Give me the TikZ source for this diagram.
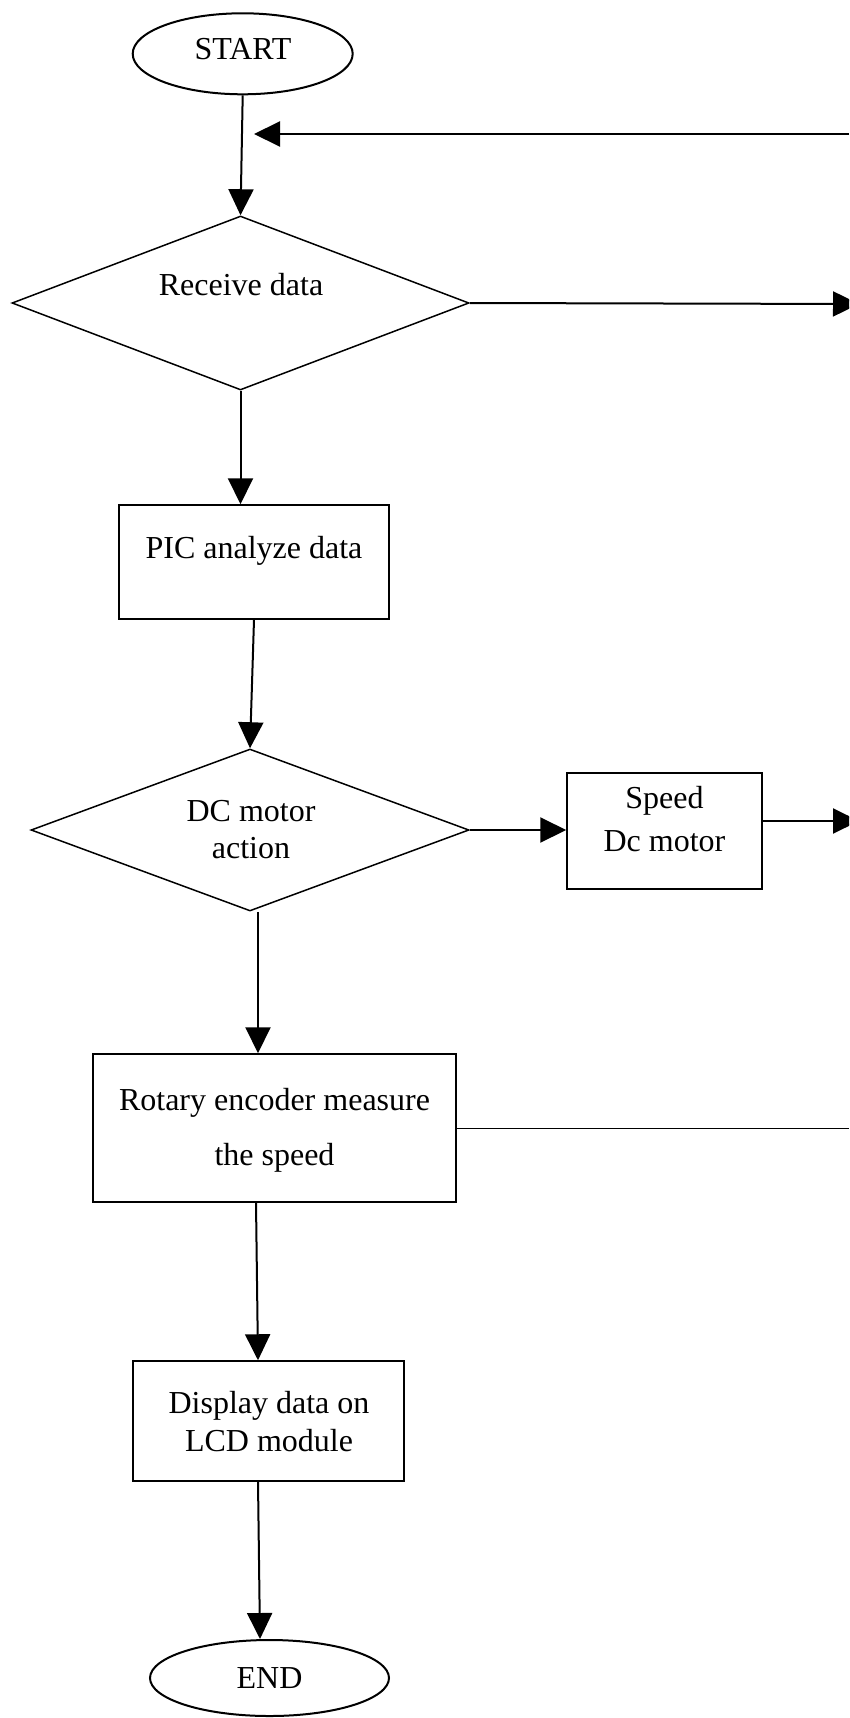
\documentclass[tikz,border=0pt]{standalone}
\usepackage{fontspec}
\setmainfont{Liberation Serif}
\usetikzlibrary{shapes.geometric,arrows.meta,calc}
\tikzset{
  every node/.style={font=\fontsize{32}{38}\selectfont},
  term/.style={ellipse,draw,line width=2pt,inner sep=0pt},
  decision/.style={diamond,draw,line width=1.5pt,inner sep=0pt},
  procbox/.style={rectangle,draw,line width=1.5pt,inner sep=0pt},
  txt/.style={inner sep=0pt,align=center},
  flow/.style={line width=2pt,-{Triangle[length=26pt,width=25pt]}},
  thinline/.style={line width=1pt}
}
\begin{document}
\begin{tikzpicture}[x=1pt,y=-1pt]
\useasboundingbox (0,0) rectangle (849,1718);
\clip (0,0) rectangle (849,1718);

% shapes
\node[term,minimum width=220pt,minimum height=81pt] (startnode) at (242.7,53.8) {};
\node[txt,anchor=base] (starttxt) at (243,60) {START};

\node[decision,minimum width=457pt,minimum height=174pt] (receive) at (240.5,303) {};
\node[txt,anchor=base] (receivetxt) at (241,295) {Receive data};

\node[procbox,minimum width=270pt,minimum height=114pt] (pic) at (254,562) {};
\node[txt,anchor=base] (pictxt) at (254,558) {PIC analyze data};

\node[decision,minimum width=438pt,minimum height=162pt] (dc) at (250,830) {};
\node[txt,font=\fontsize{32}{37}\selectfont] (dctxt) at (251,830) {DC motor\\action};

\node[procbox,minimum width=195pt,minimum height=116pt] (speed) at (664.5,831) {};
\node[txt,font=\fontsize{32}{43}\selectfont] (speedtxt) at (664.5,818.7) {Speed\\Dc motor};

\node[procbox,minimum width=363pt,minimum height=148pt] (rot) at (274.5,1128) {};
\node[txt,font=\fontsize{32}{55}\selectfont] (rottxt) at (274.5,1130.7) {Rotary encoder measure\\the speed};

\node[procbox,minimum width=271pt,minimum height=120pt] (disp) at (268.5,1421) {};
\node[txt,font=\fontsize{32}{38}\selectfont] (disptxt) at (269,1421.1) {Display data on\\LCD module};

\node[term,minimum width=239pt,minimum height=76pt] (endnode) at (269.5,1678) {};
\node[txt,anchor=base] (endtxt) at (269.5,1688) {END};

% free ends at the right edge
\coordinate (fbR) at (849,134);
\coordinate (fbT) at (254,134);
\coordinate (recvOut) at (859,304);
\coordinate (spdOut) at (859,821);
\coordinate (rotOut) at (849,1128);

% connectors
\draw[flow] (startnode.south) -- (receive.north);
\draw[flow] (fbR) -- (fbT);
\draw[flow] (receive.east) -- (recvOut);
\draw[flow] (receive.south) -- (receive.south |- pic.north);
\draw[flow] (pic.south) -- (dc.north);
\draw[flow] (dc.east) -- (dc.east -| speed.west);
\draw[flow] ([yshift=10pt]speed.east) -- (spdOut);
\draw[flow] ([xshift=8pt]dc.south) -- ([xshift=8pt]dc.south |- rot.north);
\draw[flow] ([xshift=-18.5pt]rot.south) -- ([xshift=-10.5pt]disp.north);
\draw[flow] ([xshift=-10.5pt]disp.south) -- ([xshift=-9.5pt]endnode.north);
\draw[thinline] (rot.east) -- (rotOut);
\end{tikzpicture}
\end{document}
